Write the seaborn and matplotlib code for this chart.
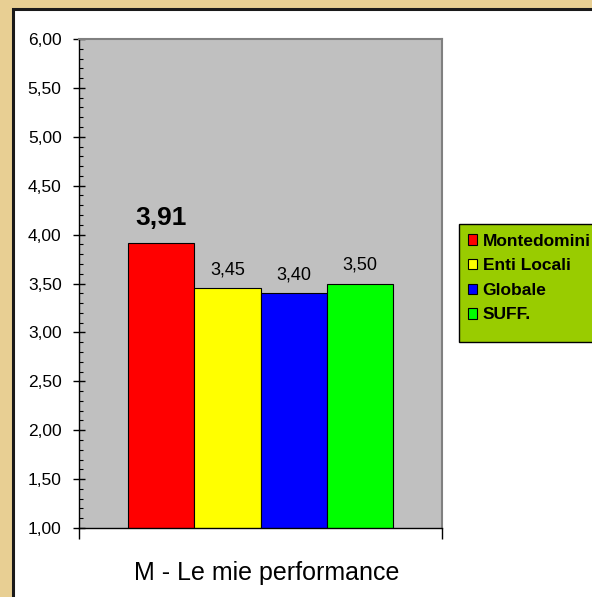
import numpy as np
import matplotlib
matplotlib.use("Agg")
import matplotlib.pyplot as plt
import matplotlib.ticker as mticker
from matplotlib.patches import Rectangle, Patch
import seaborn as sns
import pandas as pd

GROUP = "M - Le mie performance"
SERIES = ["Montedomini", "Enti Locali", "Globale", "SUFF."]
VALUES = [3.91, 3.45, 3.40, 3.50]
COLORS = ["#ff0000", "#ffff00", "#0000ff", "#00ff00"]
Y_TICKS = [1.0, 1.5, 2.0, 2.5, 3.0, 3.5, 4.0, 4.5, 5.0, 5.5, 6.0]

sns.set_style("white")
plt.rcParams["font.family"] = ["Liberation Sans", "DejaVu Sans"]
plt.rcParams["text.color"] = "black"
plt.rcParams["axes.labelcolor"] = "black"
plt.rcParams["xtick.color"] = "black"
plt.rcParams["ytick.color"] = "black"

df = pd.DataFrame({"group": [GROUP] * len(SERIES), "serie": SERIES, "value": VALUES})

W, H = 592, 597
fig = plt.figure(figsize=(W / 100, H / 100), dpi=100)
fig.patch.set_facecolor("#e8cf93")

# white panel with dark border, behind everything
fig.patches.append(Rectangle((13 / W, -0.05), 1.0, 1 - 9 / H + 0.05,
                             transform=fig.transFigure, facecolor="white",
                             edgecolor="#1a1a1a", linewidth=2.2, zorder=-10))

ax = fig.add_axes([79 / W, 1 - 528 / H, (442 - 79) / W, (528 - 39) / H])
ax.set_zorder(1)
ax.set_facecolor("#c0c0c0")

sns.barplot(data=df, x="group", y="value", hue="serie", hue_order=SERIES,
            palette=COLORS, width=0.728, edgecolor="black", linewidth=0.8,
            saturation=1, legend=False, ax=ax)

ax.set_ylim(1, 6)
ax.set_xlim(-0.5, 0.5)
ax.set_yticks(Y_TICKS)
ax.yaxis.set_minor_locator(mticker.MultipleLocator(0.1))
ax.yaxis.set_major_formatter(mticker.FuncFormatter(lambda v, p: f"{v:.2f}".replace(".", ",")))
ax.tick_params(axis="y", which="major", direction="inout", length=9, width=1,
               labelsize=12.5, pad=8, left=True)
ax.tick_params(axis="y", which="minor", direction="in", length=3, width=0.8, left=True)
ax.set_xticks([-0.5, 0.5])
ax.set_xticklabels(["", ""])
ax.tick_params(axis="x", direction="out", length=8, width=1, bottom=True)
ax.set_ylabel("")
ax.set_xlabel(GROUP, fontsize=18, color="black")
ax.xaxis.set_label_coords(0.517, -0.067)

for side in ["left", "bottom"]:
    ax.spines[side].set_color("black")
    ax.spines[side].set_linewidth(1)
for side in ["top", "right"]:
    ax.spines[side].set_color("#808080")
    ax.spines[side].set_linewidth(1.5)

for i, bar in enumerate(ax.patches[:len(VALUES)]):
    val = VALUES[i]
    cx = bar.get_x() + bar.get_width() / 2
    txt = f"{val:.2f}".replace(".", ",")
    if i == 0:
        ax.annotate(txt, (cx, val), xytext=(0, 10), textcoords="offset points",
                    ha="center", va="bottom", fontsize=19, fontweight="bold",
                    color="black")
    else:
        ax.annotate(txt, (cx, val), xytext=(0, 7), textcoords="offset points",
                    ha="center", va="bottom", fontsize=13, color="black")

# legend box drawn by hand, entries from the legend itself
fig.patches.append(Rectangle((459 / W, 1 - 342 / H), 200 / W, (342 - 224) / H,
                             transform=fig.transFigure, facecolor="#99cc00",
                             edgecolor="black", linewidth=1, zorder=2))
handles = [Patch(facecolor=c, edgecolor="black", linewidth=0.8) for c in COLORS]
leg = fig.legend(handles, SERIES, loc="upper left",
                 bbox_to_anchor=(460 / W, 1 - 226 / H),
                 bbox_transform=fig.transFigure, frameon=False,
                 handlelength=0.55, handleheight=0.55,
                 handletextpad=0.3, labelspacing=0.55, borderpad=0.45,
                 borderaxespad=0, labelcolor="black",
                 prop={"size": 12.5, "weight": "bold"})
leg.set_zorder(3)

fig.savefig("out.png", dpi=100)
